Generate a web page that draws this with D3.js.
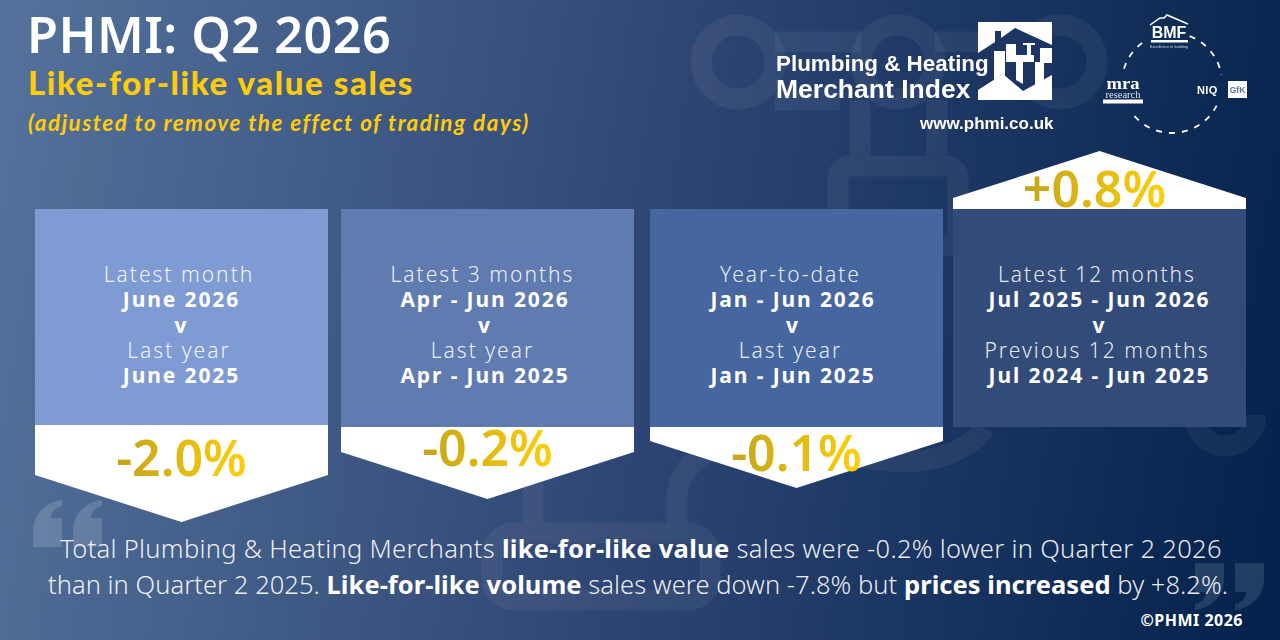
<!DOCTYPE html>
<html>
<head>
<meta charset="utf-8">
<script src="https://cdn.jsdelivr.net/npm/d3@7"></script>
<style>
  html, body { margin: 0; padding: 0; background: #0a2850; overflow: hidden; }
  text { font-family: "Noto Sans", sans-serif; }
</style>
</head>
<body>
<div id="chart"></div>
<script>
// chart values
const periods = ["Latest month", "Latest 3 months", "Year-to-date", "Latest 12 months"];
const currentRanges = ["June 2026", "Apr - Jun 2026", "Jan - Jun 2026", "Jul 2025 - Jun 2026"];
const compareLabels = ["Last year", "Last year", "Last year", "Previous 12 months"];
const compareRanges = ["June 2025", "Apr - Jun 2025", "Jan - Jun 2025", "Jul 2024 - Jun 2025"];
const changes = [-2.0, -0.2, -0.1, 0.8];

const panelFills = ["#7f9bd3", "#5f7bb0", "#46669f", "#324b79"];
const width = 1280, height = 640;

const svg = d3.select("#chart").append("svg")
  .attr("width", width).attr("height", height)
  .style("display", "block");

const defs = svg.append("defs");

const bg = defs.append("linearGradient").attr("id", "bg")
  .attr("gradientUnits", "userSpaceOnUse")
  .attr("x1", 0).attr("y1", 220).attr("x2", 1280).attr("y2", 420);
bg.append("stop").attr("offset", 0).attr("stop-color", "#527099");
bg.append("stop").attr("offset", 0.5).attr("stop-color", "#2f4674");
bg.append("stop").attr("offset", 1).attr("stop-color", "#04234d");

const gold = defs.append("linearGradient").attr("id", "gold");
gold.append("stop").attr("offset", 0).attr("stop-color", "#c4a41c");
gold.append("stop").attr("offset", 1).attr("stop-color", "#ffcf08");

defs.append("filter").attr("id", "soft").append("feGaussianBlur").attr("stdDeviation", 0.45);

svg.append("rect").attr("width", width).attr("height", height).attr("fill", "url(#bg)");

// faint pipework behind everything
const water = svg.append("g").attr("fill", "none")
  .attr("stroke", "#fff").attr("stroke-opacity", 0.055).attr("stroke-width", 21);
water.append("circle").attr("cx", 738).attr("cy", 62).attr("r", 37);
water.append("circle").attr("cx", 898).attr("cy", 62).attr("r", 37);
water.append("circle").attr("cx", 1060).attr("cy", 62).attr("r", 37);
water.append("path").attr("d", "M775 42H861M935 42H1023M775 100H840");
water.append("path").attr("d", "M860 100V155M937 100V155");
water.append("rect").attr("x", 838).attr("y", 166).attr("width", 120).attr("height", 80).attr("rx", 12);
water.append("path").attr("d", "M1194 415A31 31 0 0 0 1256 415");
water.append("path").attr("d", "M860 457C920 470 965 455 985 428");
water.append("path").attr("d", "M677 523V500C677 470 700 450 730 445");
water.append("path").attr("d", "M533 483V523");
water.append("rect").attr("x", 492).attr("y", 533).attr("width", 218).attr("height", 67).attr("rx", 22);

// quote marks, the closing one is the opening one turned round
const quoteMark = "M29 0C12 2 0 14 0 32V47H29V18H18C18 12 22 8 29 6Z";
const quotes = svg.append("g").attr("fill", "#fff");
[33, 73].forEach(q => quotes.append("path").attr("d", quoteMark)
  .attr("fill-opacity", 0.15)
  .attr("transform", `translate(${q},500)`));
[1224, 1264].forEach(q => quotes.append("path").attr("d", quoteMark)
  .attr("fill-opacity", 0.12)
  .attr("transform", `translate(${q},610) rotate(180)`));

// headings
svg.append("text").attr("x", 27).attr("y", 53).attr("font-size", 50.4).attr("font-weight", 600)
  .attr("letter-spacing", 0.45).attr("fill", "#fff").text("PHMI: Q2 2026");
svg.append("text").attr("x", 28).attr("y", 95).attr("font-size", 33).attr("font-weight", 900)
  .style("font-family", "Lato").attr("letter-spacing", 1.6).attr("fill", "#ffcc0a")
  .text("Like-for-like value sales");
svg.append("text").attr("x", 28).attr("y", 131).attr("font-size", 22.5).attr("font-weight", 700)
  .attr("font-style", "italic").style("font-family", "Lato").attr("letter-spacing", 1.45)
  .attr("fill", "#ffcc0a").text("(adjusted to remove the effect of trading days)");

// panels and arrows
const x = d3.scaleOrdinal().domain(periods).range([35, 341, 650, 953]);
const panelW = 293;
const panelTop = 209;
const panelBottom = d3.scaleOrdinal().domain(periods).range([425, 427, 427, 427]);
// arrow shaft length follows the change, but not in one straight line
const shaft = d3.scaleLinear().domain([-2.0, -0.2, -0.1, 0.8]).range([50, 25, 14, 11]);
const head = 47;

const panels = svg.selectAll("g.panel").data(periods).enter().append("g")
  .attr("class", "panel")
  .attr("transform", d => `translate(${x(d)},0)`);

panels.append("rect")
  .attr("y", panelTop).attr("width", panelW)
  .attr("height", d => panelBottom(d) - panelTop)
  .attr("fill", (d, i) => panelFills[i]);

panels.append("path").attr("fill", "#fff").attr("d", (d, i) => {
  const v = changes[i];
  if (v < 0) {
    const y0 = panelBottom(d), y1 = y0 + shaft(v);
    return `M0 ${y0}H${panelW}V${y1}L${panelW / 2} ${y1 + head}L0 ${y1}Z`;
  }
  const y1 = panelTop - shaft(v);
  return `M0 ${panelTop}H${panelW}V${y1}L${panelW / 2} ${y1 - head}L0 ${y1}Z`;
});

const lineRows = [periods, currentRanges, periods.map(() => "v"), compareLabels, compareRanges];
const rowY = d3.scalePoint().domain(d3.range(5)).range([282, 383]);
const textShift = d3.scaleOrdinal().domain(periods).range([0, -2.5, -3.5, 0]);
lineRows.forEach((row, r) => {
  const light = r % 3 === 0;
  panels.append("text")
    .attr("x", d => panelW / 2 + textShift(d) + (light ? -2.5 : 0)).attr("y", rowY(r))
    .attr("text-anchor", "middle")
    .attr("font-size", 21)
    .attr("font-weight", light ? 300 : 700)
    .attr("letter-spacing", light ? 2 : 1.9)
    .attr("fill", "#fff").attr("fill-opacity", light ? 0.9 : 1)
    .text((d, i) => row[i]);
});

const valueY = d3.scaleOrdinal().domain(periods).range([476, 466, 471, 207]);
const valueShift = d3.scaleOrdinal().domain(periods).range([0, 0, 0, -5]);
const fmt = v => (v > 0 ? "+" : "-") + Math.abs(v).toFixed(1) + "%";
panels.append("text")
  .attr("x", d => panelW / 2 + valueShift(d)).attr("y", d => valueY(d))
  .attr("text-anchor", "middle")
  .attr("font-size", 50).attr("font-weight", 600)
  .attr("fill", "url(#gold)")
  .text((d, i) => fmt(changes[i]));

// logo block
const logoText = svg.append("g").attr("filter", "url(#soft)").attr("fill", "#fff")
  .style("font-family", "Liberation Sans");
const logo = logoText.append("g").attr("transform", "translate(978,22)");
logo.append("rect").attr("width", 74).attr("height", 78).attr("fill", "#fff");
logo.append("path").attr("fill", "#1b3462")
  .attr("d", "M0 31L17 20V9H23V16L37 6L74 23V53L45 69L25 52L0 68Z");
logo.append("path").attr("fill", "#fff")
  .attr("d", "M16 29H27V55L25 52L16 58ZM28 22H38V33H49V23H45V21H57V23H53V33H56V40H45V62L38 58V40H28Z");
logo.append("path").attr("fill", "#fff").attr("d", "M57 40H62V26H74V41H66V58L57 63Z");

logoText.append("text").attr("x", 776).attr("y", 71).attr("font-size", 22.4).attr("font-weight", 700)
  .style("font-family", "Liberation Sans").text("Plumbing & Heating");
logoText.append("text").attr("x", 776).attr("y", 98).attr("font-size", 26.5).attr("font-weight", 700)
  .style("font-family", "Liberation Sans").text("Merchant Index");
logoText.append("text").attr("x", 920).attr("y", 129).attr("font-size", 17).attr("font-weight", 700)
  .style("font-family", "Liberation Sans").text("www.phmi.co.uk");

// partner ring
const ring = svg.append("g").attr("filter", "url(#soft)").attr("fill", "#fff");
[[0.36, 1.41], [2.04, 4.11], [5.0, 5.78]].forEach(a => {
  const p = d3.path();
  p.arc(1172, 83, 50, a[0] - Math.PI / 2, a[1] - Math.PI / 2);
  ring.append("path").attr("d", p.toString()).attr("fill", "none")
    .attr("stroke", "#fff").attr("stroke-width", 1.8).attr("stroke-dasharray", "6 7");
});
ring.append("path").attr("fill", "none").attr("stroke", "#fff").attr("stroke-width", 1.5)
  .attr("d", "M1150 25L1160 18H1164L1167 15L1188 24");
ring.append("text").attr("x", 1169).attr("y", 38).attr("text-anchor", "middle").attr("font-size", 16)
  .attr("font-weight", 700).style("font-family", "Liberation Sans").text("BMF");
ring.append("rect").attr("x", 1151).attr("y", 40).attr("width", 37).attr("height", 2.5);
ring.append("text").attr("x", 1169).attr("y", 48).attr("text-anchor", "middle").attr("font-size", 4)
  .style("font-family", "Liberation Sans").attr("fill-opacity", 0.75).text("Excellence in building");
ring.append("text").attr("x", 1123).attr("y", 89).attr("text-anchor", "middle").attr("font-size", 17)
  .attr("textLength", 33).attr("lengthAdjust", "spacingAndGlyphs")
  .style("font-family", "Liberation Serif").attr("font-weight", 700).text("mra");
ring.append("text").attr("x", 1123).attr("y", 98).attr("text-anchor", "middle").attr("font-size", 10.5)
  .style("font-family", "Liberation Serif").attr("fill-opacity", 0.85).text("research");
ring.append("rect").attr("x", 1103).attr("y", 99.5).attr("width", 40).attr("height", 4);
ring.append("text").attr("x", 1197).attr("y", 94).attr("font-size", 11).attr("font-weight", 700)
  .style("font-family", "Liberation Sans").attr("letter-spacing", 0.4).text("NIQ");
ring.append("rect").attr("x", 1228).attr("y", 81).attr("width", 19).attr("height", 17);
ring.append("text").attr("x", 1237.5).attr("y", 93).attr("text-anchor", "middle").attr("font-size", 8.5)
  .attr("font-weight", 700).style("font-family", "Liberation Sans").attr("fill", "#5c7596").text("GfK");

// commentary
const para = [
  { y: 558, cx: 641, sp: 0.3, parts: [["Total Plumbing & Heating Merchants ", 0], ["like-for-like value", 1], [" sales were -0.2% lower in Quarter 2 2026", 0]] },
  { y: 594, cx: 638, sp: 0.05, parts: [["than in Quarter 2 2025. ", 0], ["Like-for-like volume", 1], [" sales were down -7.8% but ", 0], ["prices increased", 1], [" by +8.2%.", 0]] }
];
para.forEach(line => {
  const t = svg.append("text").attr("x", line.cx).attr("y", line.y)
    .attr("text-anchor", "middle").attr("font-size", 25.5).attr("letter-spacing", line.sp).attr("fill", "#fff");
  line.parts.forEach(p => {
    t.append("tspan").attr("font-weight", p[1] ? 700 : 300)
      .attr("fill-opacity", p[1] ? 1 : 0.92).text(p[0]);
  });
});

svg.append("text").attr("x", 1243).attr("y", 626).attr("text-anchor", "end")
  .attr("font-size", 16).attr("font-weight", 700).attr("letter-spacing", 0.5).attr("fill", "#fff").text("\u00A9PHMI 2026");
</script>
</body>
</html>
